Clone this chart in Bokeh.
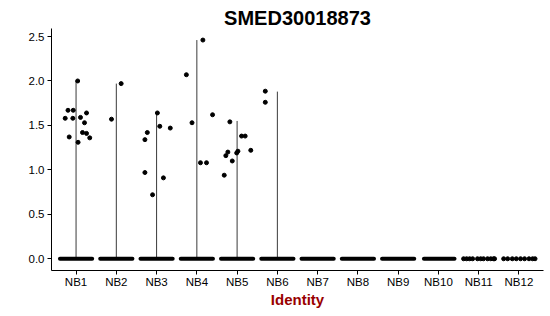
from bokeh.plotting import figure
from bokeh.models import Range1d, FixedTicker, ColumnDataSource
from bokeh.embed import file_html
from bokeh.resources import INLINE

# ---- data ----
groups = ["NB1", "NB2", "NB3", "NB4", "NB5", "NB6", "NB7", "NB8", "NB9", "NB10", "NB11", "NB12"]
violin_max = [2.00, 1.97, 1.64, 2.46, 1.55, 1.88, 0, 0, 0, 0, 0, 0]

# expressing cells: cluster index (1-based), jitter, expression value
pos_cluster = [1]*13 + [2]*2 + [3]*8 + [4]*6 + [5]*10 + [6]*2
pos_jitter = [0.04, -0.27, -0.20, -0.07, -0.08, 0.11, 0.26, 0.21, -0.17, 0.16, 0.26, 0.34, 0.05,
              -0.12, 0.12,
              0.02, 0.08, 0.34, -0.23, -0.29, -0.29, 0.17, -0.10,
              0.15, -0.26, 0.39, -0.12, 0.09, 0.24,
              -0.18, 0.11, 0.20, -0.23, -0.28, -0.01, 0.02, 0.34, -0.12, -0.32,
              -0.30, -0.30]
pos_value = [2.00, 1.58, 1.67, 1.67, 1.58, 1.59, 1.64, 1.53, 1.37, 1.42, 1.41, 1.36, 1.31,
             1.57, 1.97,
             1.64, 1.49, 1.47, 1.42, 1.34, 0.97, 0.91, 0.72,
             2.46, 2.07, 1.62, 1.53, 1.08, 1.08,
             1.54, 1.38, 1.38, 1.20, 1.16, 1.19, 1.21, 1.22, 1.10, 0.94,
             1.885, 1.76]

# dense bands of zero-expression cells (jitter extent) for NB1..NB10
zero_lo = [-0.40, -0.40, -0.40, -0.40, -0.40, -0.40, -0.40, -0.40, -0.40, -0.36]
zero_hi = [0.40, 0.40, 0.40, 0.40, 0.40, 0.40, 0.40, 0.40, 0.40, 0.40]
# sparse zero-expression cells for NB11 and NB12
zero_sparse_cluster = [11]*11 + [12]*9
zero_sparse_jitter = [-0.375, -0.30, -0.225, -0.15, -0.03, 0.05, 0.12, 0.22, 0.30, 0.37, 0.395,
                      -0.38, -0.28, -0.165, -0.065, 0.04, 0.14, 0.25, 0.34, 0.40]

FONT = "Liberation Sans"

p = figure(width=550, height=316, output_backend="svg", toolbar_location=None,
           x_range=Range1d(0.39, 12.61), y_range=Range1d(-0.132, 2.59),
           min_border_left=51, min_border_right=7, min_border_top=28, min_border_bottom=46,
           title="SMED30018873")
p.title.align = "center"
p.title.text_font = FONT
p.title.text_font_size = "20px"
p.title.text_font_style = "bold"
p.title.text_color = "black"
p.title.offset = 0
p.title.standoff = 0

p.grid.visible = False
p.outline_line_color = None
p.background_fill_color = "white"
p.border_fill_color = "white"

# violin (degenerate: vertical lines)
xs = list(range(1, len(groups) + 1))
vsrc = ColumnDataSource(dict(x=[x for x, m in zip(xs, violin_max) if m > 0],
                             top=[m for m in violin_max if m > 0]))
p.segment(x0="x", y0=0, x1="x", y1="top", source=vsrc, line_color="#3a3a3a", line_width=1)

# zero bands
zsrc = ColumnDataSource(dict(x0=[xs[i] + zero_lo[i] for i in range(len(zero_lo))],
                             x1=[xs[i] + zero_hi[i] for i in range(len(zero_hi))]))
p.segment(x0="x0", y0=0, x1="x1", y1=0, source=zsrc, line_color="black", line_width=4,
          line_cap="round")

# sparse zero points
p.scatter([c + j for c, j in zip(zero_sparse_cluster, zero_sparse_jitter)],
          [0]*len(zero_sparse_cluster), size=4, color="black")

# expressing points
p.scatter([c + j for c, j in zip(pos_cluster, pos_jitter)], pos_value, size=4, color="black")

# axes
p.xaxis.ticker = FixedTicker(ticks=xs)
p.xaxis.major_label_overrides = {x: g for x, g in zip(xs, groups)}
p.yaxis.ticker = FixedTicker(ticks=[0, 0.5, 1.0, 1.5, 2.0, 2.5])
p.yaxis.major_label_overrides = {0: "0.0", 0.5: "0.5", 1.0: "1.0", 1.5: "1.5", 2.0: "2.0", 2.5: "2.5"}
for ax in (p.xaxis, p.yaxis):
    ax.axis_line_color = "black"
    ax.axis_line_width = 1
    ax.major_tick_line_color = "black"
    ax.major_tick_out = 4
    ax.major_tick_in = 0
    ax.minor_tick_line_color = None
    ax.major_label_text_font = FONT
    ax.major_label_text_font_size = "11.5px"
    ax.major_label_text_color = "black"
    ax.major_label_standoff = 3
p.xaxis.major_label_standoff = 1

p.xaxis.axis_label = "Identity"
p.xaxis.axis_label_text_font = FONT
p.xaxis.axis_label_text_font_size = "15px"
p.xaxis.axis_label_text_font_style = "bold"
p.xaxis.axis_label_text_color = "#990000"
p.xaxis.axis_label_standoff = 0

open("out.html", "w").write(file_html(p, INLINE))
